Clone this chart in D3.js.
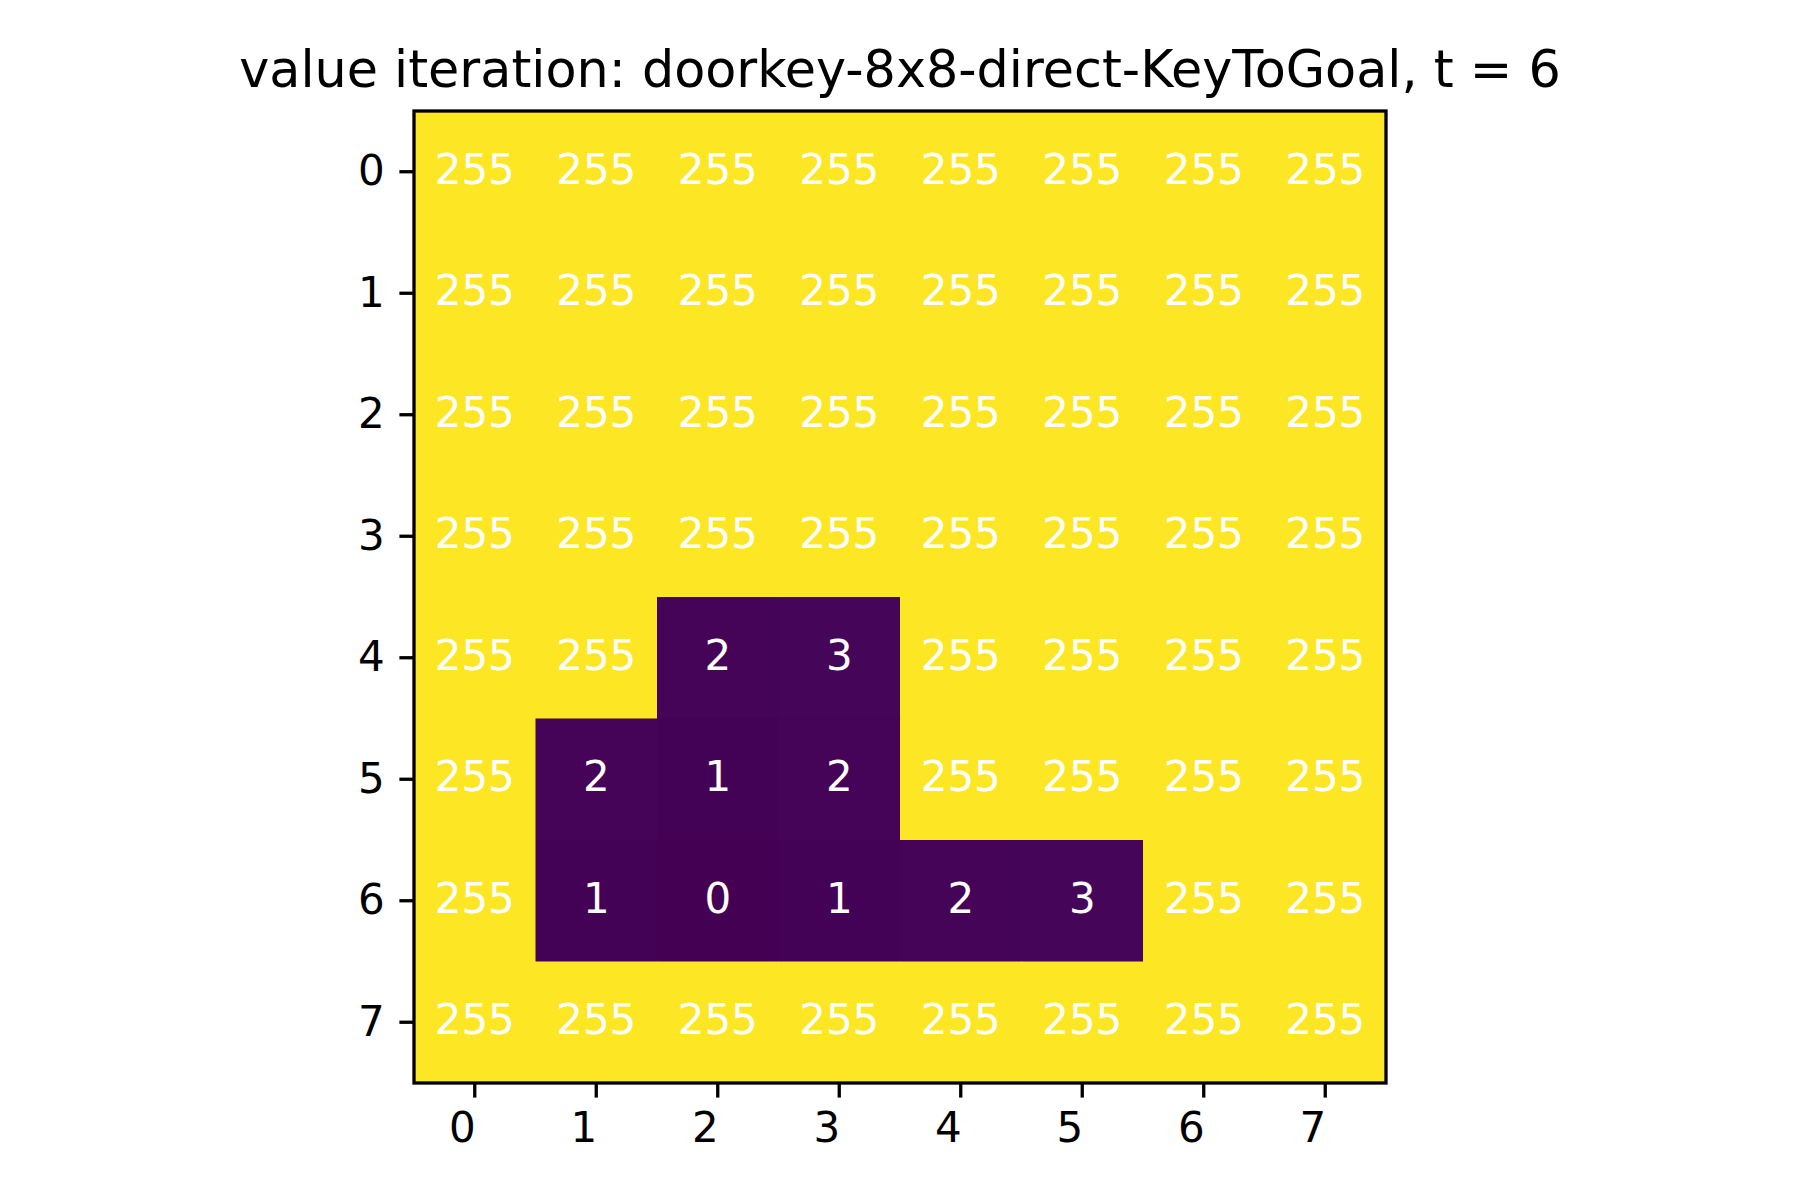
<!DOCTYPE html>
<html>
<head>
<meta charset="utf-8">
<script src="https://cdn.jsdelivr.net/npm/d3@7"></script>
<style>
  body { margin: 0; background: #fff; }
  text { font-family: "DejaVu Sans", sans-serif; }
</style>
</head>
<body>
<div id="chart"></div>
<script>
const titleText = "value iteration: doorkey-8x8-direct-KeyToGoal, t = 6";
const rowLabels = [0, 1, 2, 3, 4, 5, 6, 7];
const colLabels = [0, 1, 2, 3, 4, 5, 6, 7];
// grid values, row by row
const row0 = [255, 255, 255, 255, 255, 255, 255, 255];
const row1 = [255, 255, 255, 255, 255, 255, 255, 255];
const row2 = [255, 255, 255, 255, 255, 255, 255, 255];
const row3 = [255, 255, 255, 255, 255, 255, 255, 255];
const row4 = [255, 255, 2, 3, 255, 255, 255, 255];
const row5 = [255, 2, 1, 2, 255, 255, 255, 255];
const row6 = [255, 1, 0, 1, 2, 3, 255, 255];
const row7 = [255, 255, 255, 255, 255, 255, 255, 255];
const grid = [row0, row1, row2, row3, row4, row5, row6, row7];

const width = 1800;
const height = 1200;
const plotLeft = 414, plotTop = 111, plotSize = 972;

const svg = d3.select("#chart")
  .append("svg")
  .attr("width", width)
  .attr("height", height);

// flatten to cells
let cells = [];
grid.forEach((row, r) => row.forEach((v, c) => cells.push({r: r, c: c, v: v})));

const x = d3.scaleBand().domain(colLabels).range([plotLeft, plotLeft + plotSize]);
const y = d3.scaleBand().domain(rowLabels).range([plotTop, plotTop + plotSize]);
const color = d3.scaleSequential(d3.interpolateViridis).domain([0, 255]);

svg.append("g")
  .selectAll("rect")
  .data(cells)
  .enter()
  .append("rect")
  .attr("x", d => x(d.c))
  .attr("y", d => y(d.r))
  .attr("width", x.bandwidth() + 0.5)
  .attr("height", y.bandwidth() + 0.5)
  .attr("fill", d => color(d.v));

svg.append("g")
  .selectAll("text")
  .data(cells)
  .enter()
  .append("text")
  .attr("x", d => x(d.c) + x.bandwidth() / 2)
  .attr("y", d => y(d.r) + y.bandwidth() / 2 - 2.5)
  .attr("text-anchor", "middle")
  .attr("dominant-baseline", "central")
  .attr("fill", "white")
  .style("font-size", "42px")
  .text(d => d.v);

// frame
svg.append("rect")
  .attr("x", plotLeft)
  .attr("y", plotTop)
  .attr("width", plotSize)
  .attr("height", plotSize)
  .attr("fill", "none")
  .attr("stroke", "black")
  .attr("stroke-width", 3.3);

// y axis
const yAxis = d3.axisLeft(y).tickSize(14.6).tickPadding(14.6);
const gy = svg.append("g").attr("transform", `translate(${plotLeft},0)`).call(yAxis);
gy.select(".domain").remove();
gy.selectAll(".tick line").attr("stroke-width", 3.3);
gy.selectAll(".tick text").style("font-size", "42px").style("font-family", "DejaVu Sans").attr("fill", "black");

// x axis (labels right-aligned at tick)
const xAxis = d3.axisBottom(x).tickSize(14.6).tickPadding(14.6);
const gx = svg.append("g").attr("transform", `translate(0,${plotTop + plotSize})`).call(xAxis);
gx.select(".domain").remove();
gx.selectAll(".tick line").attr("stroke-width", 3.3);
gx.selectAll(".tick text")
  .style("font-size", "42px")
  .style("font-family", "DejaVu Sans")
  .attr("fill", "black")
  .attr("text-anchor", "end")
  .attr("x", 1);

svg.append("text")
  .attr("x", plotLeft + plotSize / 2)
  .attr("y", 87)
  .attr("text-anchor", "middle")
  .style("font-size", "50.8px")
  .text(titleText);
</script>
</body>
</html>
